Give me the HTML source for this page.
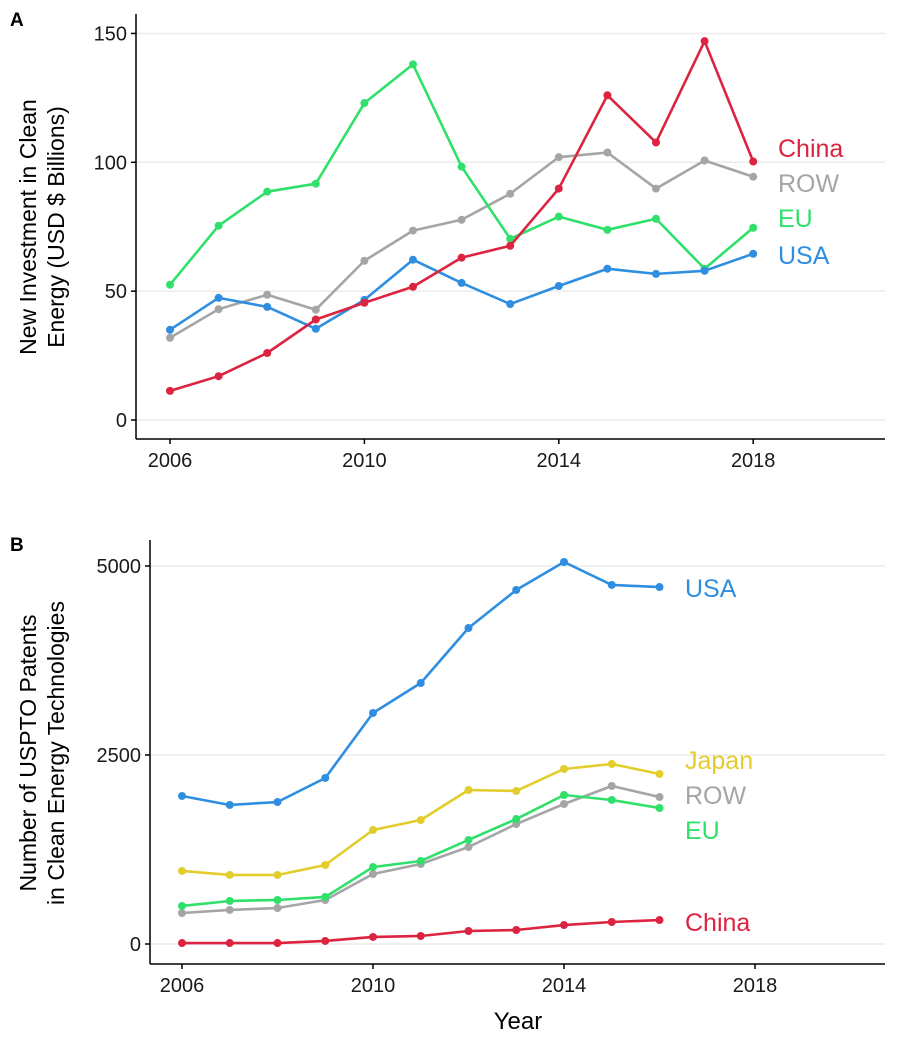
<!DOCTYPE html>
<html><head><meta charset="utf-8">
<style>
body{margin:0;background:#fff;}
svg{display:block;font-family:"Liberation Sans",Arial,sans-serif;}
</style></head>
<body>
<svg id="chart" width="900" height="1050" viewBox="0 0 900 1050"></svg>
<script>
const years = [2006,2007,2008,2009,2010,2011,2012,2013,2014,2015,2016,2017,2018];
const aChina = [11.3,17,26,39,45.5,51.7,63,67.6,89.8,126,107.7,147,100.3];
const aROW = [31.9,43,48.6,42.8,61.8,73.5,77.7,87.8,102,103.8,89.8,100.7,94.4];
const aEU = [52.5,75.4,88.6,91.7,123,138,98.3,70.3,78.9,73.8,78.1,58.7,74.6];
const aUSA = [35,47.4,43.9,35.4,46.6,62.2,53.2,45,52,58.7,56.7,57.9,64.5];
const yearsB = [2006,2007,2008,2009,2010,2011,2012,2013,2014,2015,2016];
const bUSA = [1958,1839,1878,2196,3056,3452,4180,4683,5053,4749,4722];
const bJapan = [966,913,913,1045,1508,1640,2037,2024,2315,2381,2249];
const bROW = [410,450,476,582,926,1058,1283,1587,1852,2090,1944];
const bEU = [503,569,582,622,1018,1098,1376,1653,1971,1905,1799];
const bChina = [13,13,13,40,93,106,172,185,251,291,317];
const xTicks = [2006,2010,2014,2018];
const aYTicks = [0,50,100,150];
const bYTicks = [0,2500,5000];

const C = {China:'#dc2340',ROW:'#a5a5a5',EU:'#2fe06a',USA:'#2f8ee0',Japan:'#e2cd2c'};
const svg = document.getElementById('chart');
const NS = 'http://www.w3.org/2000/svg';
function mk(tag, attrs, parent){const e=document.createElementNS(NS,tag);for(const k in attrs)e.setAttribute(k,attrs[k]);(parent||svg).appendChild(e);return e;}

function panel(cfg){
  const g = mk('g',{});
  
  
  const xs = v => cfg.x0 + (v - 2006) * cfg.xStep;
  const ys = v => cfg.y0 - v * cfg.yScale;
  cfg.yTicks.forEach(t=>{
    const gl = mk('line',{x1:cfg.axisX,x2:885,y1:ys(t),y2:ys(t),stroke:'#ebebeb','stroke-width':1.5},g);
    
    
    mk('line',{x1:cfg.axisX-5,x2:cfg.axisX,y1:ys(t),y2:ys(t),stroke:'#000','stroke-width':1.5},g);
    const tl = mk('text',{x:cfg.axisX-9,y:ys(t)+7,'text-anchor':'end','font-size':20,fill:'#1a1a1a'},g);
    tl.textContent = t;
    
    
  });
  xTicks.forEach(t=>{
    mk('line',{x1:xs(t),x2:xs(t),y1:cfg.axisY,y2:cfg.axisY+5,stroke:'#000','stroke-width':1.5},g);
    const tl = mk('text',{x:xs(t),y:cfg.axisY+28,'text-anchor':'middle','font-size':20,fill:'#1a1a1a'},g);
    tl.textContent = t;
    
    
  });
  const ya = mk('line',{x1:cfg.axisX,x2:cfg.axisX,y1:cfg.axisTop,y2:cfg.axisY,stroke:'#000','stroke-width':1.5},g);
  
  
  const xa = mk('line',{x1:cfg.axisX,x2:885,y1:cfg.axisY,y2:cfg.axisY,stroke:'#000','stroke-width':1.5},g);
  
  
  cfg.series.forEach(s=>{
    const pts = s.vals.map((v,i)=>xs(s.yrs[i])+','+ys(v)).join(' ');
    const pl = mk('polyline',{points:pts,fill:'none',stroke:C[s.k],'stroke-width':2.6,'stroke-linejoin':'round'},g);
    
    
    s.vals.forEach((v,i)=>{
      const c = mk('circle',{cx:xs(s.yrs[i]),cy:ys(v),r:4,fill:C[s.k]},g);
      
      
    });
    const lb = mk('text',{x:s.lx,y:s.ly,'font-size':25,fill:C[s.k]},g);
    lb.textContent = s.k;
    
    
  });
  const tt = mk('text',{transform:`translate(${cfg.titleX},${cfg.titleY}) rotate(-90)`,'text-anchor':'middle','font-size':23,fill:'#000'},g);
  
  
  cfg.title.forEach((line,i)=>{const ts=mk('tspan',{x:0,dy:i?28:0},tt);ts.textContent=line;});
  const pl = mk('text',{x:10,y:cfg.tagY,'font-size':19,'font-weight':'bold'},g);
  pl.textContent = cfg.tag;
  
  
}

panel({name:'panel-a',tag:'A',tagY:26,x0:170,xStep:48.6,y0:420,yScale:2.577,axisX:136,axisY:439,axisTop:14,
  yTicks:aYTicks,title:['New Investment in Clean','Energy (USD $ Billions)'],titleX:36,titleY:227,
  series:[
    {k:'ROW',vals:aROW,yrs:years,lx:778,ly:192},
    {k:'EU',vals:aEU,yrs:years,lx:778,ly:227},
    {k:'USA',vals:aUSA,yrs:years,lx:778,ly:264},
    {k:'China',vals:aChina,yrs:years,lx:778,ly:157}
  ]});
panel({name:'panel-b',tag:'B',tagY:551,x0:182,xStep:47.75,y0:944,yScale:0.0756,axisX:150,axisY:964,axisTop:540,
  yTicks:bYTicks,title:['Number of USPTO Patents','in Clean Energy Technologies'],titleX:36,titleY:753,
  series:[
    {k:'ROW',vals:bROW,yrs:yearsB,lx:685,ly:804},
    {k:'EU',vals:bEU,yrs:yearsB,lx:685,ly:839},
    {k:'Japan',vals:bJapan,yrs:yearsB,lx:685,ly:769},
    {k:'China',vals:bChina,yrs:yearsB,lx:685,ly:931},
    {k:'USA',vals:bUSA,yrs:yearsB,lx:685,ly:597}
  ]});
const xt = mk('text',{x:518,y:1029,'text-anchor':'middle','font-size':24});
xt.textContent='Year';


</script>
</body></html>
